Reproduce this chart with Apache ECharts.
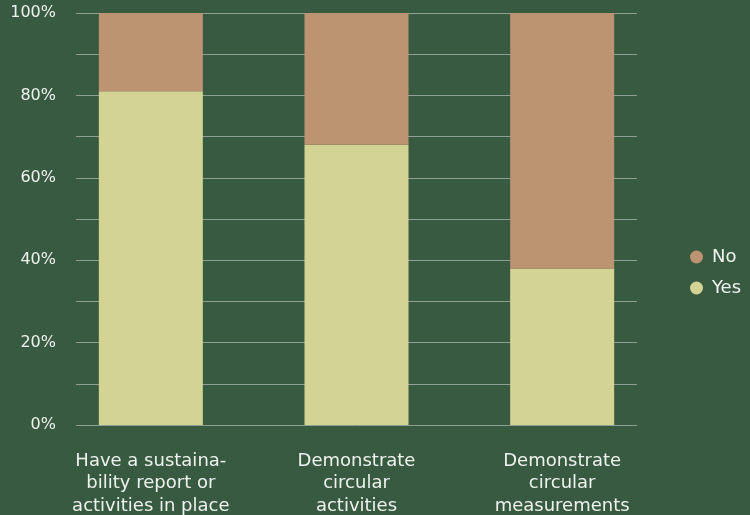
<!DOCTYPE html>
<html><head><meta charset="utf-8">
<script src="https://cdn.jsdelivr.net/npm/echarts@6/dist/echarts.min.js"></script>
<style>html,body{margin:0;padding:0;background:#385a41;}#c{width:750px;height:515px;}</style>
</head><body><div id="c"></div>
<script>
const categories = ["Have a sustaina-\nbility report or\nactivities in place", "Demonstrate\ncircular\nactivities", "Demonstrate\ncircular\nmeasurements"];
const yesValues = [81, 68, 38];
const noValues = [19, 32, 62];
const seriesNames = ["No", "Yes"];

const FONT = "'DejaVu Sans', sans-serif";
const TXT = '#eef2ee';
const chart = echarts.init(document.getElementById('c'), null, {renderer: 'canvas'});
chart.setOption({
  backgroundColor: '#385a41',
  animation: false,
  textStyle: {fontFamily: FONT},
  legend: {
    orient: 'vertical', left: 685, top: 243,
    data: seriesNames,
    icon: 'circle', itemWidth: 13, itemHeight: 13, itemGap: 13,
    textStyle: {color: TXT, fontSize: 18, lineHeight: 18, fontFamily: FONT, padding: [0, 0, 0, 4]}
  },
  grid: [
    {left: 76, right: 113, top: 13, bottom: 90, outerBoundsMode: 'none', containLabel: false},
    {left: 48, right: 85, top: 13, bottom: 90, outerBoundsMode: 'none', containLabel: false}
  ],
  xAxis: [
    {type: 'category', gridIndex: 0, data: categories, show: false},
    {type: 'category', gridIndex: 1, data: categories,
      axisLine: {show: false}, axisTick: {show: false}, splitLine: {show: false},
      axisLabel: {color: TXT, fontSize: 18, lineHeight: 22.5, margin: 25, fontFamily: FONT, interval: 0}}
  ],
  yAxis: [
    {type: 'value', gridIndex: 0, min: 0, max: 100, interval: 10,
      axisLine: {show: false}, axisTick: {show: false},
      splitLine: {show: true, lineStyle: {color: '#909f94', width: 1}},
      axisLabel: {color: TXT, fontSize: 16, margin: 20, fontFamily: FONT,
        formatter: v => (v % 20 === 0 ? v + '%' : '')}},
    {type: 'value', gridIndex: 1, min: 0, max: 100, show: false}
  ],
  series: [
    {name: 'Yes', type: 'bar', xAxisIndex: 1, yAxisIndex: 1, stack: 's', barWidth: 104,
      itemStyle: {color: '#d3d494'}, data: yesValues},
    {name: 'No', type: 'bar', xAxisIndex: 1, yAxisIndex: 1, stack: 's', barWidth: 104,
      itemStyle: {color: '#bd9471'}, data: noValues}
  ]
});
</script></body></html>
